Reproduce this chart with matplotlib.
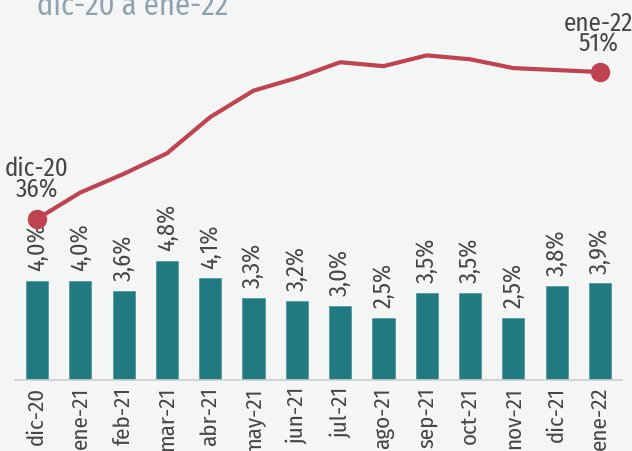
import matplotlib
matplotlib.use("Agg")
import matplotlib.pyplot as plt

meses = ["dic-20", "ene-21", "feb-21", "mar-21", "abr-21", "may-21", "jun-21",
         "jul-21", "ago-21", "sep-21", "oct-21", "nov-21", "dic-21", "ene-22"]
barras = [4.0, 4.0, 3.6, 4.8, 4.1, 3.3, 3.2, 3.0, 2.5, 3.5, 3.5, 2.5, 3.8, 3.9]
linea = [36.0, 38.7, 40.6, 42.7, 46.4, 49.1, 50.4, 52.0, 51.6, 52.7, 52.3, 51.4, 51.2, 51.0]

fondo = "#f4f6f6"
teal = "#217a82"
rojo = "#bf4350"
gris = "#454545"

plt.rcParams["font.family"] = ["Fira Sans Condensed", "DejaVu Sans"]

fig = plt.figure(figsize=(6.32, 4.51), dpi=100, facecolor=fondo)
ax = fig.add_axes([0.0242, 0.1574, 0.9595, 0.8426])
ax.set_facecolor(fondo)
x = list(range(len(meses)))
ax.bar(x, barras, width=0.51, color=teal, edgecolor="#5a9aa0", linewidth=0.6, zorder=2)
ax.set_xlim(-0.5, 13.5)
ax.set_ylim(0, 15.32)
for i, v in enumerate(barras):
    ax.annotate(f"{v:.1f}%".replace(".", ","), (i, v), xytext=(0, 7), textcoords="offset points",
                rotation=90, ha="center", va="bottom", fontsize=17.5, color=gris)
ax.set_xticks(x)
ax.set_xticklabels(meses, rotation=90, fontsize=16.5, color=gris)
ax.tick_params(axis="x", length=0, pad=5)
ax.set_yticks([])
for s in ["top", "right", "left"]:
    ax.spines[s].set_visible(False)
ax.spines["bottom"].set_color("#cccccc")
ax.spines["bottom"].set_linewidth(1.2)

ax2 = ax.twinx()
ax2.plot(x, linea, color=rojo, linewidth=3, zorder=3)
ax2.plot([x[0], x[-1]], [linea[0], linea[-1]], "o", color=rojo, markersize=13, zorder=4)
ax2.set_ylim(19.57, 58.35)
ax2.set_yticks([])
for s in ax2.spines.values():
    s.set_visible(False)
ax2.annotate(f"{meses[0]}\n{linea[0]:.0f}%", (x[0], linea[0]), xytext=(0, 12), textcoords="offset points",
             ha="center", va="bottom", fontsize=18, color=gris, linespacing=0.8)
ax2.annotate(f"{meses[-1]}\n{linea[-1]:.0f}%", (x[-1], linea[-1]), xytext=(-1, 11), textcoords="offset points",
             ha="center", va="bottom", fontsize=18, color=gris, linespacing=0.8)

fig.text(0.058, 1 - 15 / 451, "dic-20 a ene-22", fontsize=22, color="#8fa2ad", ha="left", va="baseline")

fig.savefig("out.png", dpi=100, facecolor=fondo)
